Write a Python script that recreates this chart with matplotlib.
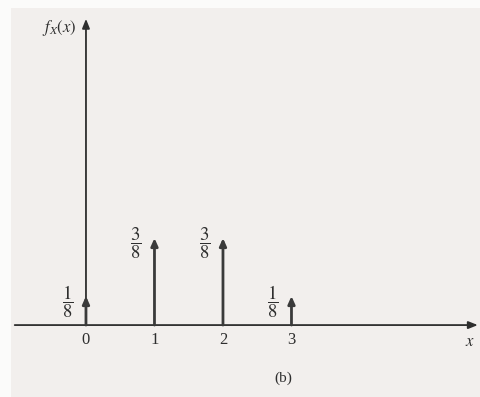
import matplotlib
matplotlib.use("Agg")
import matplotlib.pyplot as plt
from matplotlib.patches import Rectangle

# pmf of X: number of heads in three fair coin tosses
xs = [0, 1, 2, 3]
probs = [1 / 8, 3 / 8, 3 / 8, 1 / 8]
prob_labels = [r"$\dfrac{1}{8}$", r"$\dfrac{3}{8}$", r"$\dfrac{3}{8}$", r"$\dfrac{1}{8}$"]
tick_labels = ["0", "1", "2", "3"]

plt.rcParams["font.family"] = ["Liberation Serif", "DejaVu Serif"]
plt.rcParams["mathtext.fontset"] = "stix"

ink = "#2e2e2e"
paper = "#f2efed"

fig = plt.figure(figsize=(4.8, 3.97), dpi=100, facecolor="#fbfbfa")
fig.patches.append(Rectangle((11 / 480, 0), 1, 1 - 8 / 397, transform=fig.transFigure,
                             facecolor=paper, edgecolor="none", zorder=-1))
ax = fig.add_axes([0, 0, 1, 1])
ax.set_facecolor("none")
ax.set_xlim(-1.255, 5.752)
ax.set_ylim(-0.310, 1.401)
ax.axis("off")

# axes with arrow heads
arrow = dict(arrowstyle="-|>,head_length=0.55,head_width=0.22", color=ink, lw=1.3,
             shrinkA=0, shrinkB=0)
ax.annotate("", xy=(5.72, 0), xytext=(-1.04, 0), arrowprops=arrow)
ax.annotate("", xy=(0, 1.32), xytext=(0, 0), arrowprops=arrow)

# impulses
stem = dict(arrowstyle="-|>,head_length=0.45,head_width=0.2", color="#3a3a3a", lw=2.0,
            shrinkA=0, shrinkB=0)
for x, p, lab, t in zip(xs, probs, prob_labels, tick_labels):
    ax.annotate("", xy=(x, p), xytext=(x, 0), arrowprops=stem)
    ax.text(x - 0.27, p - 0.022, lab, ha="center", va="center", fontsize=13.5, color=ink)
    ax.text(x, -0.065, t, ha="center", va="center", fontsize=12, color=ink)

ax.text(5.6, -0.073, r"$x$", ha="center", va="center", fontsize=12, color=ink)
ax.text(-0.13, 1.28, r"$f_X(x)$", ha="right", va="center", fontsize=12, color=ink)
ax.text(2.88, -0.228, "(b)", ha="center", va="center", fontsize=11, color=ink)

fig.savefig("out.png", dpi=100, facecolor=fig.get_facecolor())
